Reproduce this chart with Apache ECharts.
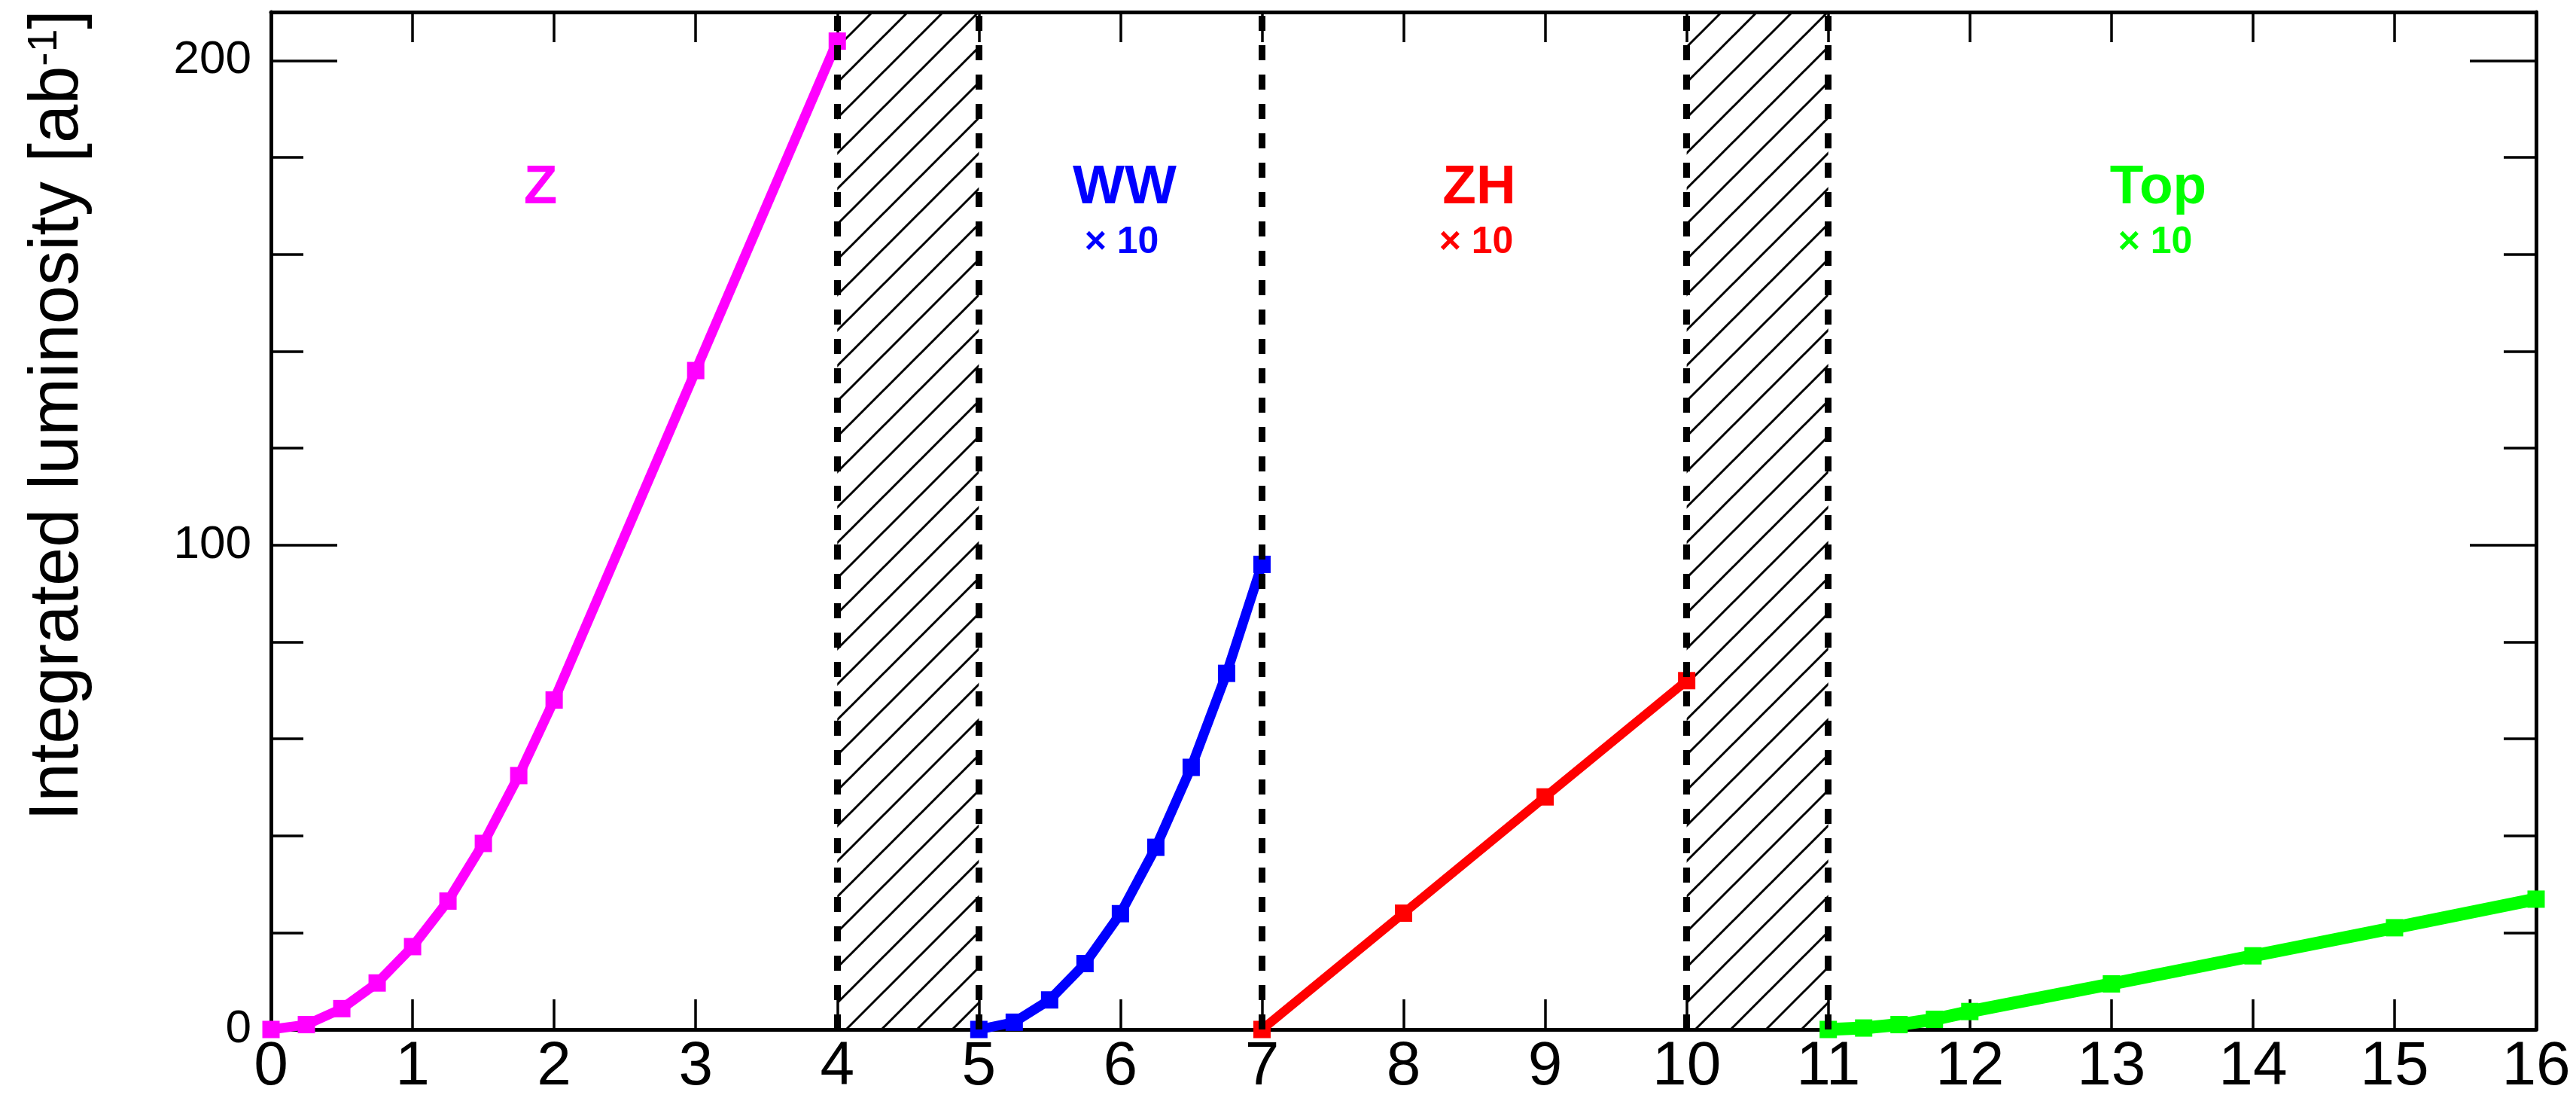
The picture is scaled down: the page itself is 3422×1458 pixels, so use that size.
<!DOCTYPE html>
<html>
<head>
<meta charset="utf-8">
<title>Integrated luminosity per run</title>
<script src="https://cdn.jsdelivr.net/npm/echarts@6/dist/echarts.min.js"></script>
<style>
  html, body { margin: 0; padding: 0; background: #ffffff; }
  #chart { width: 3422px; height: 1458px; }
</style>
</head>
<body>
<div id="chart"></div>
<script>
// ---- data (years of operation vs. integrated luminosity in ab^-1) ----
const zYears   = [0, 0.25, 0.5, 0.75, 1, 1.25, 1.5, 1.75, 2, 3, 4];
const zLumi    = [0, 1.0, 4.3, 9.6, 17.1, 26.5, 38.4, 52.4, 68, 136, 204];

const wwYears  = [5, 5.25, 5.5, 5.75, 6, 6.25, 6.5, 6.75, 7];
const wwLumiX10 = [0, 1.5, 6.1, 13.6, 23.9, 37.6, 54.1, 73.5, 96];

const zhYears  = [7, 8, 9, 10];
const zhLumiX10 = [0, 24, 48, 72];

const topYears = [11, 11.25, 11.5, 11.75, 12, 13, 14, 15, 16];
const topLumiX10 = [0, 0.3, 1.0, 2.1, 3.7, 9.4, 15.2, 21.0, 26.9];

// shutdown periods (hatched) and run boundaries (dashed)
const shutdownPeriods = [[4, 5], [10, 11]];
const runBoundaries = [4, 5, 7, 10, 11];

// axis ticks and labels
const xTickValues = [0, 1, 2, 3, 4, 5, 6, 7, 8, 9, 10, 11, 12, 13, 14, 15, 16];
const yMajorTicks = [0, 100, 200];
const yMinorTicks = [0, 20, 40, 60, 80, 100, 120, 140, 160, 180, 200];
const xMin = 0, xMax = 16, yMin = 0, yMax = 210;

// run labels
const runNames  = ['Z', 'WW', 'ZH', 'Top'];
const runScales = ['', '× 10', '× 10', '× 10'];
const runColors = ['#ff00ff', '#0000ff', '#ff0000', '#00ff00'];

const FONT = '"Liberation Sans", Arial, Helvetica, sans-serif';

function pairs(xs, ys) { return xs.map((x, i) => [x, ys[i]]); }

// 45 degree hatch tile
function hatchTile(step, width) {
  const c = document.createElement('canvas');
  c.width = step; c.height = step;
  const g = c.getContext('2d');
  g.strokeStyle = '#000';
  g.lineWidth = width;
  g.beginPath();
  g.moveTo(0, step); g.lineTo(step, 0);
  g.moveTo(-step / 2, step / 2); g.lineTo(step / 2, -step / 2);
  g.moveTo(step / 2, step * 1.5); g.lineTo(step * 1.5, step / 2);
  g.stroke();
  return c;
}

const chart = echarts.init(document.getElementById('chart'), null, { renderer: 'canvas' });

const axisLineStyle = { color: '#000', width: 5 };
const tickStyle = { color: '#000', width: 3.5 };

function xAxisDef(position, withLabels) {
  return {
    type: 'value', position: position, min: xMin, max: xMax, interval: 1,
    axisLine: { show: true, onZero: false, lineStyle: axisLineStyle },
    axisTick: { show: true, inside: true, length: 40, lineStyle: tickStyle, customValues: xTickValues },
    axisLabel: {
      show: withLabels, customValues: xTickValues, fontSize: 82, margin: 9,
      color: '#000', fontFamily: FONT
    },
    splitLine: { show: false }
  };
}

function yAxisDef(position, showLine, ticks, tickLen, withLabels) {
  return {
    type: 'value', position: position, min: yMin, max: yMax,
    axisLine: { show: showLine, onZero: false, lineStyle: axisLineStyle },
    axisTick: { show: true, inside: true, length: tickLen, lineStyle: tickStyle, customValues: ticks },
    axisLabel: {
      show: withLabels, customValues: yMajorTicks, fontSize: 62, margin: 26,
      color: '#000', fontFamily: FONT
    },
    splitLine: { show: false }
  };
}

function runSeries(name, xs, ys, color, lineWidth) {
  return {
    name: name, type: 'line', data: pairs(xs, ys),
    xAxisIndex: 0, yAxisIndex: 0,
    symbol: 'rect', symbolSize: 23, showAllSymbol: true,
    itemStyle: { color: color },
    lineStyle: { color: color, width: lineWidth },
    clip: false, z: 4, silent: true, animation: false
  };
}

const labelGraphics = [];
const labelX = [718, 1494, 1965, 2867];
runNames.forEach((n, i) => {
  labelGraphics.push({
    type: 'text', x: labelX[i], y: 250, z: 20,
    style: {
      text: n, fill: runColors[i], font: 'bold 73px ' + FONT,
      textAlign: 'center', textVerticalAlign: 'middle'
    }
  });
  if (runScales[i]) {
    labelGraphics.push({
      type: 'text', x: labelX[i] - 4, y: 322, z: 20,
      style: {
        text: runScales[i], fill: runColors[i], font: 'bold 50px ' + FONT,
        textAlign: 'center', textVerticalAlign: 'middle'
      }
    });
  }
});

// rotated y-axis title with superscript
labelGraphics.push({
  type: 'text', x: 78, y: 1090, rotation: Math.PI / 2, z: 20,
  style: {
    text: '{m|Integrated luminosity [ab}{s|-1}{m|]}',
    textAlign: 'left', textVerticalAlign: 'middle',
    rich: {
      m: { fontSize: 92, lineHeight: 92, fontFamily: FONT, fill: '#000', verticalAlign: 'bottom' },
      s: { fontSize: 55, lineHeight: 32, fontFamily: FONT, fill: '#000', verticalAlign: 'top' }
    }
  }
});

const option = {
  animation: false,
  backgroundColor: '#ffffff',
  grid: { left: 360, right: 53, top: 16, bottom: 85, containLabel: false },
  xAxis: [xAxisDef('bottom', true), xAxisDef('top', false)],
  yAxis: [
    yAxisDef('left', true, yMinorTicks, 43, true),
    yAxisDef('left', false, yMajorTicks, 88, false),
    yAxisDef('right', true, yMinorTicks, 43, false),
    yAxisDef('right', false, yMajorTicks, 88, false)
  ],
  series: [
    {
      name: 'shutdown', type: 'line', data: [], xAxisIndex: 0, yAxisIndex: 0, z: 1, silent: true,
      markArea: {
        silent: true,
        itemStyle: { color: { image: hatchTile(47, 3), repeat: 'repeat' }, opacity: 1, borderWidth: 0 },
        label: { show: false },
        data: shutdownPeriods.map(p => [{ xAxis: p[0] }, { xAxis: p[1] }])
      }
    },
    runSeries('Z', zYears, zLumi, runColors[0], 13),
    runSeries('WW', wwYears, wwLumiX10, runColors[1], 13),
    runSeries('ZH', zhYears, zhLumiX10, runColors[2], 12),
    runSeries('Top', topYears, topLumiX10, runColors[3], 17),
    {
      name: 'boundaries', type: 'line', data: [], xAxisIndex: 0, yAxisIndex: 0, z: 10, silent: true,
      markLine: {
        silent: true, symbol: ['none', 'none'], animation: false,
        label: { show: false },
        lineStyle: { color: '#000', width: 9, type: [20, 19], opacity: 1 },
        emphasis: { disabled: true },
        data: runBoundaries.map(v => ({ xAxis: v }))
      }
    }
  ],
  graphic: labelGraphics
};

chart.setOption(option);
</script>
</body>
</html>
